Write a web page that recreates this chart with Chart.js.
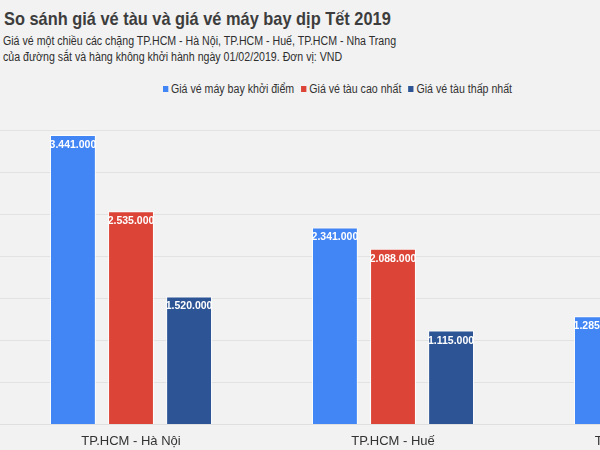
<!DOCTYPE html>
<html>
<head>
<meta charset="utf-8">
<script src="https://cdn.jsdelivr.net/npm/chart.js@4/dist/chart.umd.min.js"></script>
<style>
  html, body { margin: 0; padding: 0; }
  body {
    width: 600px; height: 450px; overflow: hidden; position: relative;
    background: #f2f2f2; font-family: "Liberation Sans", Arial, sans-serif;
  }
  .squeeze { transform: scaleX(0.885); transform-origin: 0 0; white-space: nowrap; }
  #title {
    position: absolute; left: 4px; top: 8px;
    font-size: 18.5px; font-weight: bold; color: #3d3d3d; line-height: 22px;
  }
  #sub {
    position: absolute; left: 3px; top: 33px;
    font-size: 12px; color: #2e2e2e; line-height: 16px;
  }
  #legend {
    position: absolute; left: 163px; top: 81px;
    font-size: 12px; color: #333; line-height: 16px;
  }
  #legend span.item { margin-right: 8px; }
  #legend i {
    display: inline-block; width: 6px; height: 6px; margin-right: 3px;
    vertical-align: 1px;
  }
  #wrap { position: absolute; left: 0; top: 120px; width: 800px; height: 338px; }
</style>
</head>
<body>
<div id="title" class="squeeze">So sánh giá vé tàu và giá vé máy bay dịp Tết 2019</div>
<div id="sub" class="squeeze">Giá vé một chiều các chặng TP.HCM - Hà Nội, TP.HCM - Huế, TP.HCM - Nha Trang<br>của đường sắt và hàng không khởi hành ngày 01/02/2019. Đơn vị: VND</div>
<div id="legend" class="squeeze"></div>
<div id="wrap"><canvas id="chart"></canvas></div>
<script>
// ─── DATA ──────────────────────────
const routes = ['TP.HCM - Hà Nội', 'TP.HCM - Huế', 'TP.HCM - Nha Trang'];
const seriesNames = ['Giá vé máy bay khởi điểm', 'Giá vé tàu cao nhất', 'Giá vé tàu thấp nhất'];
const flightMin = [3441000, 2341000, 1285000];
const trainMax = [2535000, 2088000, 1000000];   // Nha Trang values are cut off in the picture
const trainMin = [1520000, 1115000, 600000];
const seriesColors = ['#4285f4', '#db4437', '#2d5596'];

const fmt = v => String(v).replace(/\B(?=(\d{3})+(?!\d))/g, '.');

// legend (html, sits where the original had it)
document.getElementById('legend').innerHTML = seriesNames
    .map((n, i) => `<span class="item"><i style="background:${seriesColors[i]}"></i>${n}</span>`)
    .join('');

// value labels inside the top of each bar
const barLabels = {
    id: 'barLabels',
    afterDatasetsDraw(chart) {
        const { ctx } = chart;
        ctx.save();
        ctx.font = 'bold 10.5px "Liberation Sans", Arial, sans-serif';
        ctx.fillStyle = '#ffffff';
        ctx.textAlign = 'center';
        ctx.textBaseline = 'middle';
        chart.data.datasets.forEach((ds, di) => {
            chart.getDatasetMeta(di).data.forEach((bar, i) => {
                ctx.fillText(fmt(ds.data[i]), bar.x, bar.y + 10);
            });
        });
        ctx.restore();
    }
};

const allSeries = [flightMin, trainMax, trainMin];

new Chart(document.getElementById('chart'), {
    type: 'bar',
    data: {
        labels: routes,
        datasets: allSeries.map((data, i) => ({
            label: seriesNames[i],
            data,
            backgroundColor: seriesColors[i],
            borderColor: 'rgba(255,255,255,0.85)',
            borderWidth: 1,
            categoryPercentage: 0.665,
            barPercentage: 0.79
        }))
    },
    options: {
        responsive: true,
        maintainAspectRatio: false,
        animation: false,
        layout: { padding: { top: 10, right: 14, bottom: 0, left: 0 } },
        plugins: {
            legend: { display: false },
            tooltip: { enabled: false }
        },
        scales: {
            x: {
                grid: { display: false, drawTicks: false },
                border: { display: true, color: '#e0e0e0' },
                ticks: {
                    color: '#333',
                    padding: 9,
                    font: { family: '"Liberation Sans", Arial, sans-serif', size: 13 }
                }
            },
            y: {
                min: 0,
                max: 3500000,
                ticks: { display: false, stepSize: 500000 },
                grid: { color: '#e2e2e2', drawTicks: false },
                border: { display: false }
            }
        }
    },
    plugins: [barLabels]
});
</script>
</body>
</html>
